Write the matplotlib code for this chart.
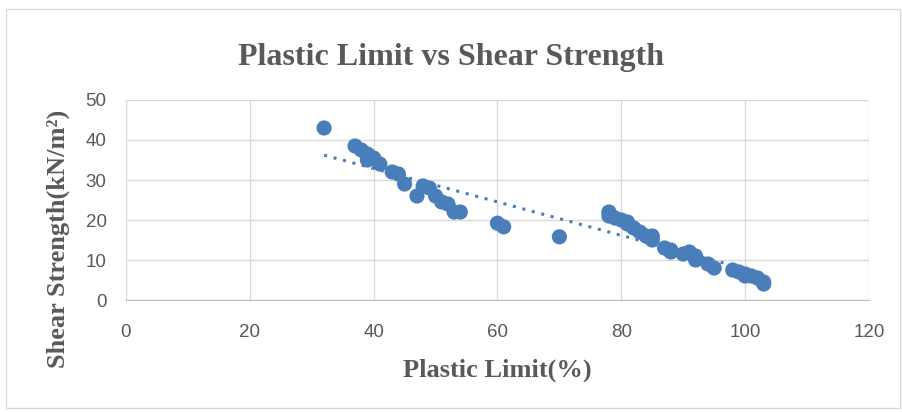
import numpy as np
import matplotlib
matplotlib.use("Agg")
import matplotlib.pyplot as plt
from matplotlib.patches import Rectangle

# data
plastic_limit = [32, 37, 38, 39, 39, 40, 41, 43, 44, 45,
                 47, 48, 49, 50, 51, 52, 53, 54, 60, 61,
                 70, 78, 78, 79, 80, 81, 81, 82, 83, 84,
                 85, 85, 87, 88, 88, 90, 91, 92, 92, 94,
                 95, 98, 99, 100, 100, 101, 102, 103, 103]
shear_strength = [43, 38.5, 37.5, 36.5, 35, 35.5, 34, 32, 31.5, 29,
                  26, 28.5, 28, 26, 24.5, 24, 22, 22, 19.2, 18.3,
                  15.8, 22, 21, 20.5, 20, 19.5, 19, 18, 17, 16,
                  16, 15, 13, 12.5, 12, 11.5, 12, 11, 10, 9,
                  8, 7.5, 7, 6.5, 6, 6, 5.5, 4.5, 4]
# linear trendline (slope, intercept) as shown
trend_coef = [-0.418, 49.6]

blue = "#4a7ebb"
grey = "#595959"

fig = plt.figure(figsize=(9.03, 4.12), dpi=100)
fig.patches.append(Rectangle((0.007, 0.01), 0.99, 0.968, transform=fig.transFigure,
                             fill=False, edgecolor="#d9d9d9", linewidth=1))
ax = fig.add_axes([0.1395, 0.2718, 0.8228, 0.4855])

x = np.array(plastic_limit)
y = np.array(shear_strength)
tx = np.array([x.min(), x.max()])
ax.plot(tx, np.polyval(trend_coef, tx), linestyle=(0, (1, 2.2)), color=blue,
        linewidth=2.2, zorder=2)
ax.scatter(x, y, s=120, color=blue, edgecolors="none", zorder=3)

ax.set_xlim(0, 120)
ax.set_ylim(0, 50)
ax.set_xticks(range(0, 121, 20))
ax.set_yticks(range(0, 51, 10))
ax.grid(True, color="#d9d9d9", linewidth=1)
ax.set_axisbelow(True)
for s in ["top", "right", "left"]:
    ax.spines[s].set_visible(False)
ax.spines["bottom"].set_color("#bfbfbf")
ax.tick_params(axis="y", length=0, labelsize=13.5, labelcolor=grey, pad=14)
ax.tick_params(axis="x", length=0, labelsize=13.5, labelcolor=grey, pad=17)
for lab in ax.get_xticklabels() + ax.get_yticklabels():
    lab.set_family("Liberation Sans")

fig.text(0.5, 0.86, "Plastic Limit vs Shear Strength", fontsize=23, fontweight="bold",
         family="Liberation Serif", color=grey, ha="center", va="center")
ax.set_xlabel("Plastic Limit(%)", fontsize=19, fontweight="bold",
              family="Liberation Serif", color=grey, labelpad=13)
fig.text(0.064, 1 - 239 / 412, "Shear Strength(kN/m\u00b2)", fontsize=19,
         fontweight="bold", family="Liberation Serif", color=grey,
         rotation=90, ha="center", va="center")

fig.savefig("out.png", dpi=100)
